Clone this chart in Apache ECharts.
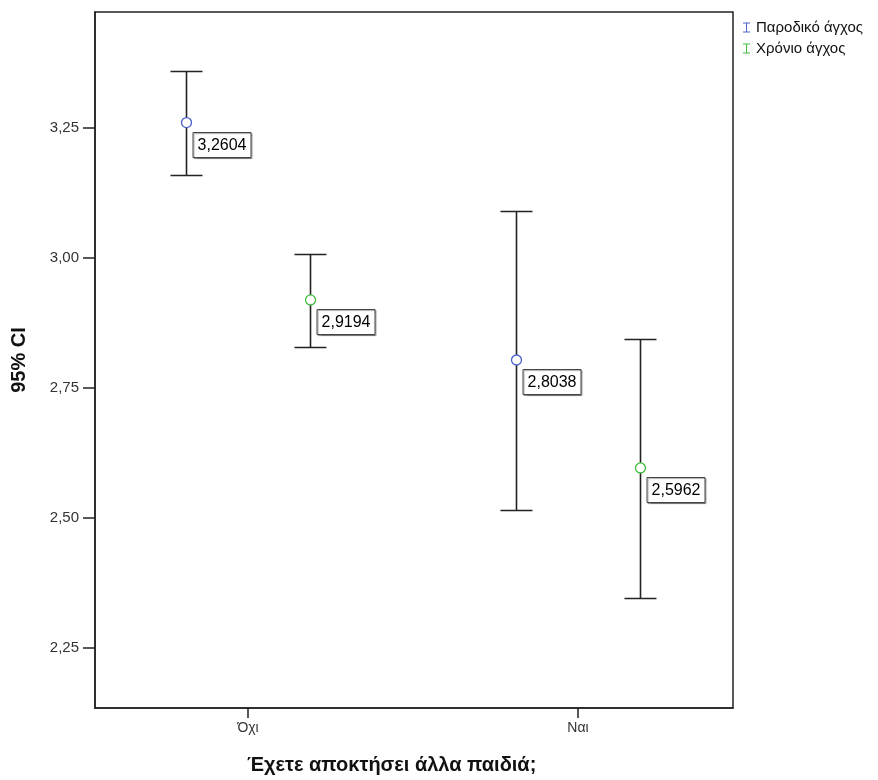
<!DOCTYPE html>
<html><head><meta charset="utf-8">
<script src="https://cdn.jsdelivr.net/npm/echarts@6/dist/echarts.min.js"></script>
<style>html,body{margin:0;padding:0;background:#fff}#c{width:878px;height:780px}</style>
</head><body><div id="c"></div>
<script>
const categories = ['Όχι', 'Ναι'];
const seriesNames = ['Παροδικό άγχος', 'Χρόνιο άγχος'];
const meanParodiko = [3.2604, 2.8038];
const lowParodiko = [3.1596, 2.5154];
const highParodiko = [3.3596, 3.0904];
const meanXronio = [2.9194, 2.5962];
const lowXronio = [2.8288, 2.3462];
const highXronio = [3.0077, 2.8442];
const yTicks = [2.25, 2.5, 2.75, 3.0, 3.25];

const colors = ['#4b61c9', '#3dbd3d'];
const offsets = [-0.188, 0.188];
const fmt = v => v.toFixed(4).replace('.', ',');

function buildData(means, lows, highs, k) {
  return categories.map((c, i) => [i + 1 + offsets[k], means[i], lows[i], highs[i]]);
}

function renderItem(params, api) {
  const x = api.value(0), m = api.value(1), lo = api.value(2), hi = api.value(3);
  const pm = api.coord([x, m]);
  const pl = api.coord([x, lo]);
  const ph = api.coord([x, hi]);
  const cx = Math.round(pm[0]) + 0.5;
  const color = colors[params.seriesIndex];
  const lineStyle = { stroke: '#222', lineWidth: 1.6 };
  const cap = 16;
  const bx = cx + 6.5, by = Math.round(pm[1]) + 9.5;
  return {
    type: 'group',
    children: [
      { type: 'line', shape: { x1: cx, y1: pl[1], x2: cx, y2: ph[1] }, style: lineStyle },
      { type: 'line', shape: { x1: cx - cap, y1: Math.round(ph[1]) + 0.5, x2: cx + cap, y2: Math.round(ph[1]) + 0.5 }, style: lineStyle },
      { type: 'line', shape: { x1: cx - cap, y1: Math.round(pl[1]) + 0.5, x2: cx + cap, y2: Math.round(pl[1]) + 0.5 }, style: lineStyle },
      { type: 'circle', shape: { cx: cx, cy: pm[1], r: 5 }, style: { fill: '#fff', stroke: color, lineWidth: 1.3 } },
      { type: 'rect', shape: { x: bx, y: by, width: 58, height: 25 }, style: { fill: '#fff', stroke: '#444', lineWidth: 1, shadowColor: 'rgba(0,0,0,0.35)', shadowOffsetX: 1, shadowOffsetY: 1, shadowBlur: 1 } },
      { type: 'text', style: { x: bx + 29, y: by + 13, text: fmt(m), align: 'center', verticalAlign: 'middle', fill: '#000', font: '16px "Liberation Sans", Arial, sans-serif' } }
    ]
  };
}

const chart = echarts.init(document.getElementById('c'), null, { renderer: 'canvas' });
const iconI = 'path://M0,0 H10 V1.2 H5.7 V12.8 H10 V14 H0 V12.8 H4.3 V1.2 H0 Z';
chart.setOption({
  animation: false,
  backgroundColor: '#fff',
  textStyle: { fontFamily: '"Liberation Sans", Arial, sans-serif' },
  grid: { left: 95, right: 145, top: 12, bottom: 72, outerBoundsMode: 'none', containLabel: false, show: true, borderColor: '#222', borderWidth: 1.5, backgroundColor: '#fff' },
  legend: {
    orient: 'vertical', left: 738, top: 15, itemGap: 6, itemWidth: 7, itemHeight: 12,
    icon: iconI,
    textStyle: { fontSize: 15, color: '#111', padding: [0, 0, 0, 1] },
    data: seriesNames
  },
  xAxis: {
    type: 'value', min: 0.536, max: 2.47,
    splitLine: { show: false },
    axisLine: { show: true, lineStyle: { color: '#222', width: 1.5 } },
    axisTick: { show: true, length: 10, lineStyle: { color: '#222', width: 1.5 }, customValues: [1, 2] },
    axisLabel: { customValues: [1, 2], formatter: v => categories[Math.round(v) - 1], color: '#333', fontSize: 14, margin: 13 }
  },
  yAxis: {
    type: 'value', min: 2.1346, max: 3.473,
    name: '95% CI', nameLocation: 'middle', nameGap: 66, nameRotate: 90,
    nameTextStyle: { fontSize: 20, fontWeight: 'bold', color: '#111' },
    splitLine: { show: false },
    axisLine: { show: true, lineStyle: { color: '#222', width: 1.5 } },
    axisTick: { show: true, length: 12, lineStyle: { color: '#222', width: 1.5 }, customValues: yTicks },
    axisLabel: { customValues: yTicks, formatter: v => v.toFixed(2).replace('.', ','), color: '#333', fontSize: 15, margin: 16 }
  },
  graphic: [{
    type: 'text', left: 247, top: 755,
    style: { text: 'Έχετε αποκτήσει άλλα παιδιά;', font: 'bold 20px "Liberation Sans", Arial, sans-serif', fill: '#111' }
  }],
  series: [
    { name: seriesNames[0], type: 'custom', renderItem, itemStyle: { color: colors[0] }, encode: { x: 0, y: [1, 2, 3] }, data: buildData(meanParodiko, lowParodiko, highParodiko, 0) },
    { name: seriesNames[1], type: 'custom', renderItem, itemStyle: { color: colors[1] }, encode: { x: 0, y: [1, 2, 3] }, data: buildData(meanXronio, lowXronio, highXronio, 1) }
  ]
});
</script></body></html>
